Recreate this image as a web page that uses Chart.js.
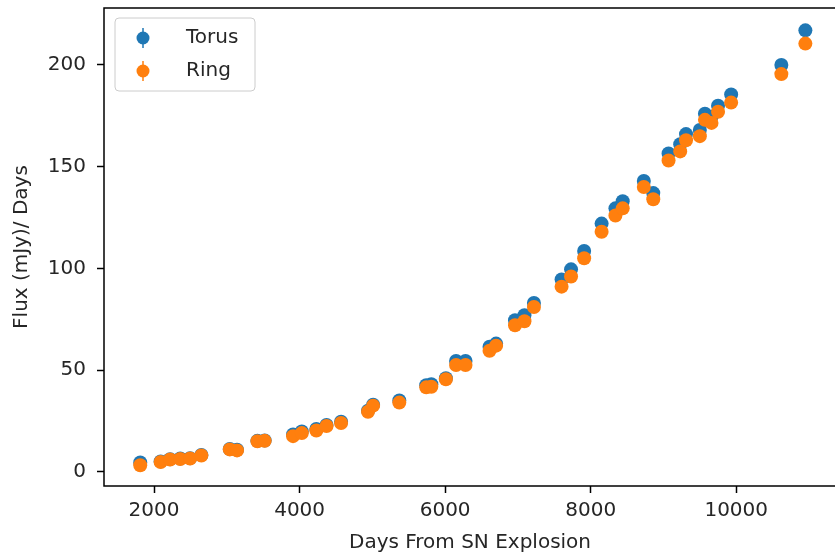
<!DOCTYPE html>
<html>
<head>
<meta charset="utf-8">
<script src="https://cdn.jsdelivr.net/npm/chart.js@4"></script>
<style>
  html, body { margin: 0; padding: 0; background: #fff; overflow: hidden; }
  #wrap { width: 837px; height: 558px; }
</style>
</head>
<body>
<div id="wrap"><canvas id="chart" width="837" height="558"></canvas></div>
<script>
// Flux vs days since explosion

const days = [1810, 2090, 2220, 2360, 2495, 2650, 3040, 3140, 3420, 3520,
              3910, 4030, 4230, 4370, 4570, 4940, 5010, 5370, 5740, 5810,
              6010, 6150, 6280, 6610, 6700, 6960, 7090, 7220, 7600, 7730,
              7910, 8150, 8340, 8440, 8730, 8860, 9070, 9230, 9310, 9500,
              9570, 9660, 9750, 9930, 10620, 10950];

const torusFlux = [4.6, 5.1, 6.2, 6.5, 6.7, 8.3, 11.2, 10.8, 15.2, 15.4,
                   18.3, 19.8, 21.0, 23.0, 24.6, 30.0, 33.0, 35.0, 42.5, 43.0,
                   46.0, 54.5, 54.5, 61.5, 63.0, 74.5, 77.0, 83.0, 94.5, 99.5,
                   108.5, 122.0, 129.5, 133.0, 143.0, 137.0, 156.5, 161.0, 166.0, 168.0,
                   176.0, 174.5, 180.0, 185.5, 200.0, 217.0];

const ringFlux = [3.2, 4.8, 6.0, 6.3, 6.5, 8.0, 11.0, 10.5, 15.0, 15.2,
                  17.5, 19.0, 20.3, 22.5, 24.0, 29.5, 32.5, 34.0, 41.5, 41.8,
                  45.5, 52.5, 52.5, 59.5, 62.0, 72.0, 74.0, 81.0, 91.0, 96.0,
                  105.0, 118.0, 126.0, 129.5, 140.0, 134.0, 153.0, 157.5, 163.0, 165.0,
                  173.0, 171.5, 177.0, 181.5, 195.5, 210.5];

const xTicks = [2000, 4000, 6000, 8000, 10000];
const yTicks = [0, 50, 100, 150, 200];

const BLUE = '#1f77b4';
const ORANGE = '#ff7f0e';
const FONT = 'DejaVu Sans';

function toPoints(xs, ys) {
    return xs.map((x, i) => ({ x: x, y: ys[i] }));
}

// no extra room for the end labels, the plot box is placed by hand
function noPad(s) {
    s.paddingTop = 0;
    s.paddingBottom = 0;
    s.paddingLeft = 0;
    s.paddingRight = 0;
}

// --- Plugins ---

// box round the plot area, like matplotlib spines
const frame = {
    id: 'frame',
    afterDatasetsDraw(chart) {
        const a = chart.chartArea;
        const ctx = chart.ctx;
        ctx.save();
        ctx.strokeStyle = '#000';
        ctx.lineWidth = 1.5;
        ctx.strokeRect(a.left, a.top, a.right - a.left, a.bottom - a.top);
        ctx.restore();
    }
};

// legend inside the upper left corner, markers with a small error bar
const innerLegend = {
    id: 'innerLegend',
    afterDraw(chart) {
        const ctx = chart.ctx;
        const a = chart.chartArea;
        const x0 = a.left + 11, y0 = a.top + 10, w = 140, h = 73;
        ctx.save();
        ctx.beginPath();
        ctx.roundRect(x0, y0, w, h, 4);
        ctx.fillStyle = 'rgba(255,255,255,0.8)';
        ctx.fill();
        ctx.strokeStyle = '#cccccc';
        ctx.lineWidth = 1;
        ctx.stroke();

        chart.data.datasets.forEach((ds, i) => {
            const cy = y0 + 20 + i * 33;
            const cx = x0 + 28;
            ctx.strokeStyle = ds.backgroundColor;
            ctx.lineWidth = 1.5;
            ctx.beginPath();
            ctx.moveTo(cx, cy - 10);
            ctx.lineTo(cx, cy + 10);
            ctx.stroke();
            ctx.beginPath();
            ctx.arc(cx, cy, 6.5, 0, Math.PI * 2);
            ctx.fillStyle = ds.backgroundColor;
            ctx.fill();
            ctx.fillStyle = '#262626';
            ctx.font = `20px "${FONT}"`;
            ctx.textBaseline = 'middle';
            ctx.textAlign = 'left';
            ctx.fillText(ds.label, x0 + 71, cy);
        });
        ctx.restore();
    }
};

// --- Chart ---

const ctx = document.getElementById('chart').getContext('2d');
new Chart(ctx, {
    type: 'scatter',
    data: {
        datasets: [
            {
                label: 'Torus',
                data: toPoints(days, torusFlux),
                backgroundColor: BLUE,
                borderWidth: 0,
                pointRadius: 7,
                order: 1,   // drawn under the ring points
            },
            {
                label: 'Ring',
                data: toPoints(days, ringFlux),
                backgroundColor: ORANGE,
                borderWidth: 0,
                pointRadius: 7,
                order: 0,
            }
        ]
    },
    options: {
        responsive: false,
        animation: false,
        devicePixelRatio: 1,
        layout: { autoPadding: false, padding: { top: 8, right: 1, left: 0, bottom: 0 } },
        plugins: {
            legend: { display: false },
            tooltip: { enabled: false }
        },
        scales: {
            x: {
                type: 'linear',
                min: 1312,
                max: 11371,
                afterBuildTicks: s => { s.ticks = xTicks.map(v => ({ value: v })); },
                afterFit: s => { s.height = 72; noPad(s); },
                border: { display: false },
                grid: { drawOnChartArea: false, drawTicks: true, tickLength: 7, tickColor: '#000', tickWidth: 1.5 },
                ticks: {
                    color: '#262626', padding: 6, maxRotation: 0,
                    font: { family: FONT, size: 20 },
                    callback: v => String(v)
                },
                title: {
                    display: true,
                    text: 'Days From SN Explosion',
                    color: '#262626',
                    font: { family: FONT, size: 20 },
                    padding: { top: 0, bottom: 3 }
                }
            },
            y: {
                type: 'linear',
                min: -7,
                max: 228,
                afterBuildTicks: s => { s.ticks = yTicks.map(v => ({ value: v })); },
                afterFit: s => { s.width = 104; noPad(s); },
                border: { display: false },
                grid: { drawOnChartArea: false, drawTicks: true, tickLength: 7, tickColor: '#000', tickWidth: 1.5 },
                ticks: {
                    color: '#262626', padding: 11,
                    font: { family: FONT, size: 20 },
                    callback: v => String(v)
                },
                title: {
                    display: true,
                    text: 'Flux (mJy)/ Days',
                    color: '#262626',
                    font: { family: FONT, size: 20 },
                    padding: { top: 10, bottom: 0 }
                }
            }
        }
    },
    plugins: [frame, innerLegend]
});
</script>
</body>
</html>
